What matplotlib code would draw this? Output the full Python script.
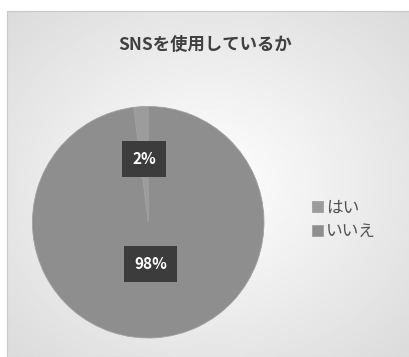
import numpy as np
import matplotlib.pyplot as plt

plt.rcParams['font.family'] = ['Noto Sans CJK JP', 'DejaVu Sans']

# data
labels = ['はい', 'いいえ']
shares = [2, 98]
pct_text = ['2%', '98%']
colors = ['#9c9c9c', '#8e8e8e']

fig = plt.figure(figsize=(4.10, 3.57), dpi=100)

# background panel with soft gradient
bg = fig.add_axes([7/410, 0, 403/410, 1 - 11/357])
yy, xx = np.mgrid[-1:1:200j, -1:1:200j]
grad = 1 - 0.10 * np.clip(np.sqrt(xx**2 + yy**2), 0, 1.4)
bg.imshow(grad, cmap='gray', vmin=0, vmax=1, extent=[0, 1, 0, 1], aspect='auto')
bg.set_xticks([])
bg.set_yticks([])
for s in bg.spines.values():
    s.set_color('#c8c8c8')

fig.text(0.5, 1 - 45/357, 'SNSを使用しているか', ha='center', va='center',
         fontsize=12.5, fontweight='bold', color='#404040')

ax = fig.add_axes([0.076, 0.050, 0.571, 0.655])
wedges, _ = ax.pie(shares, colors=colors, startangle=90, counterclock=True,
                   wedgeprops=dict(linewidth=0.6, edgecolor='#a0a0a0'))
ax.set_xlim(-1.01, 1.01)
ax.set_ylim(-1.01, 1.01)
ax.set_aspect('equal')

dist = [0.55, 0.36]
for w, t, d in zip(wedges, pct_text, dist):
    ang = np.deg2rad((w.theta1 + w.theta2) / 2)
    ax.text(d * np.cos(ang), d * np.sin(ang), t, ha='center', va='center',
            fontsize=11, fontweight='bold', color='white',
            bbox=dict(boxstyle='square,pad=0.65', fc='#3c3c3c', ec='none'))

leg = fig.legend(wedges, labels, loc='center left',
                 bbox_to_anchor=(297/410, 1 - 220/357), frameon=False,
                 fontsize=12, handlelength=0.65, handleheight=0.65,
                 handletextpad=0.2, labelspacing=0.4)
for txt in leg.get_texts():
    txt.set_color('#505050')

fig.savefig('out.png', dpi=100)
